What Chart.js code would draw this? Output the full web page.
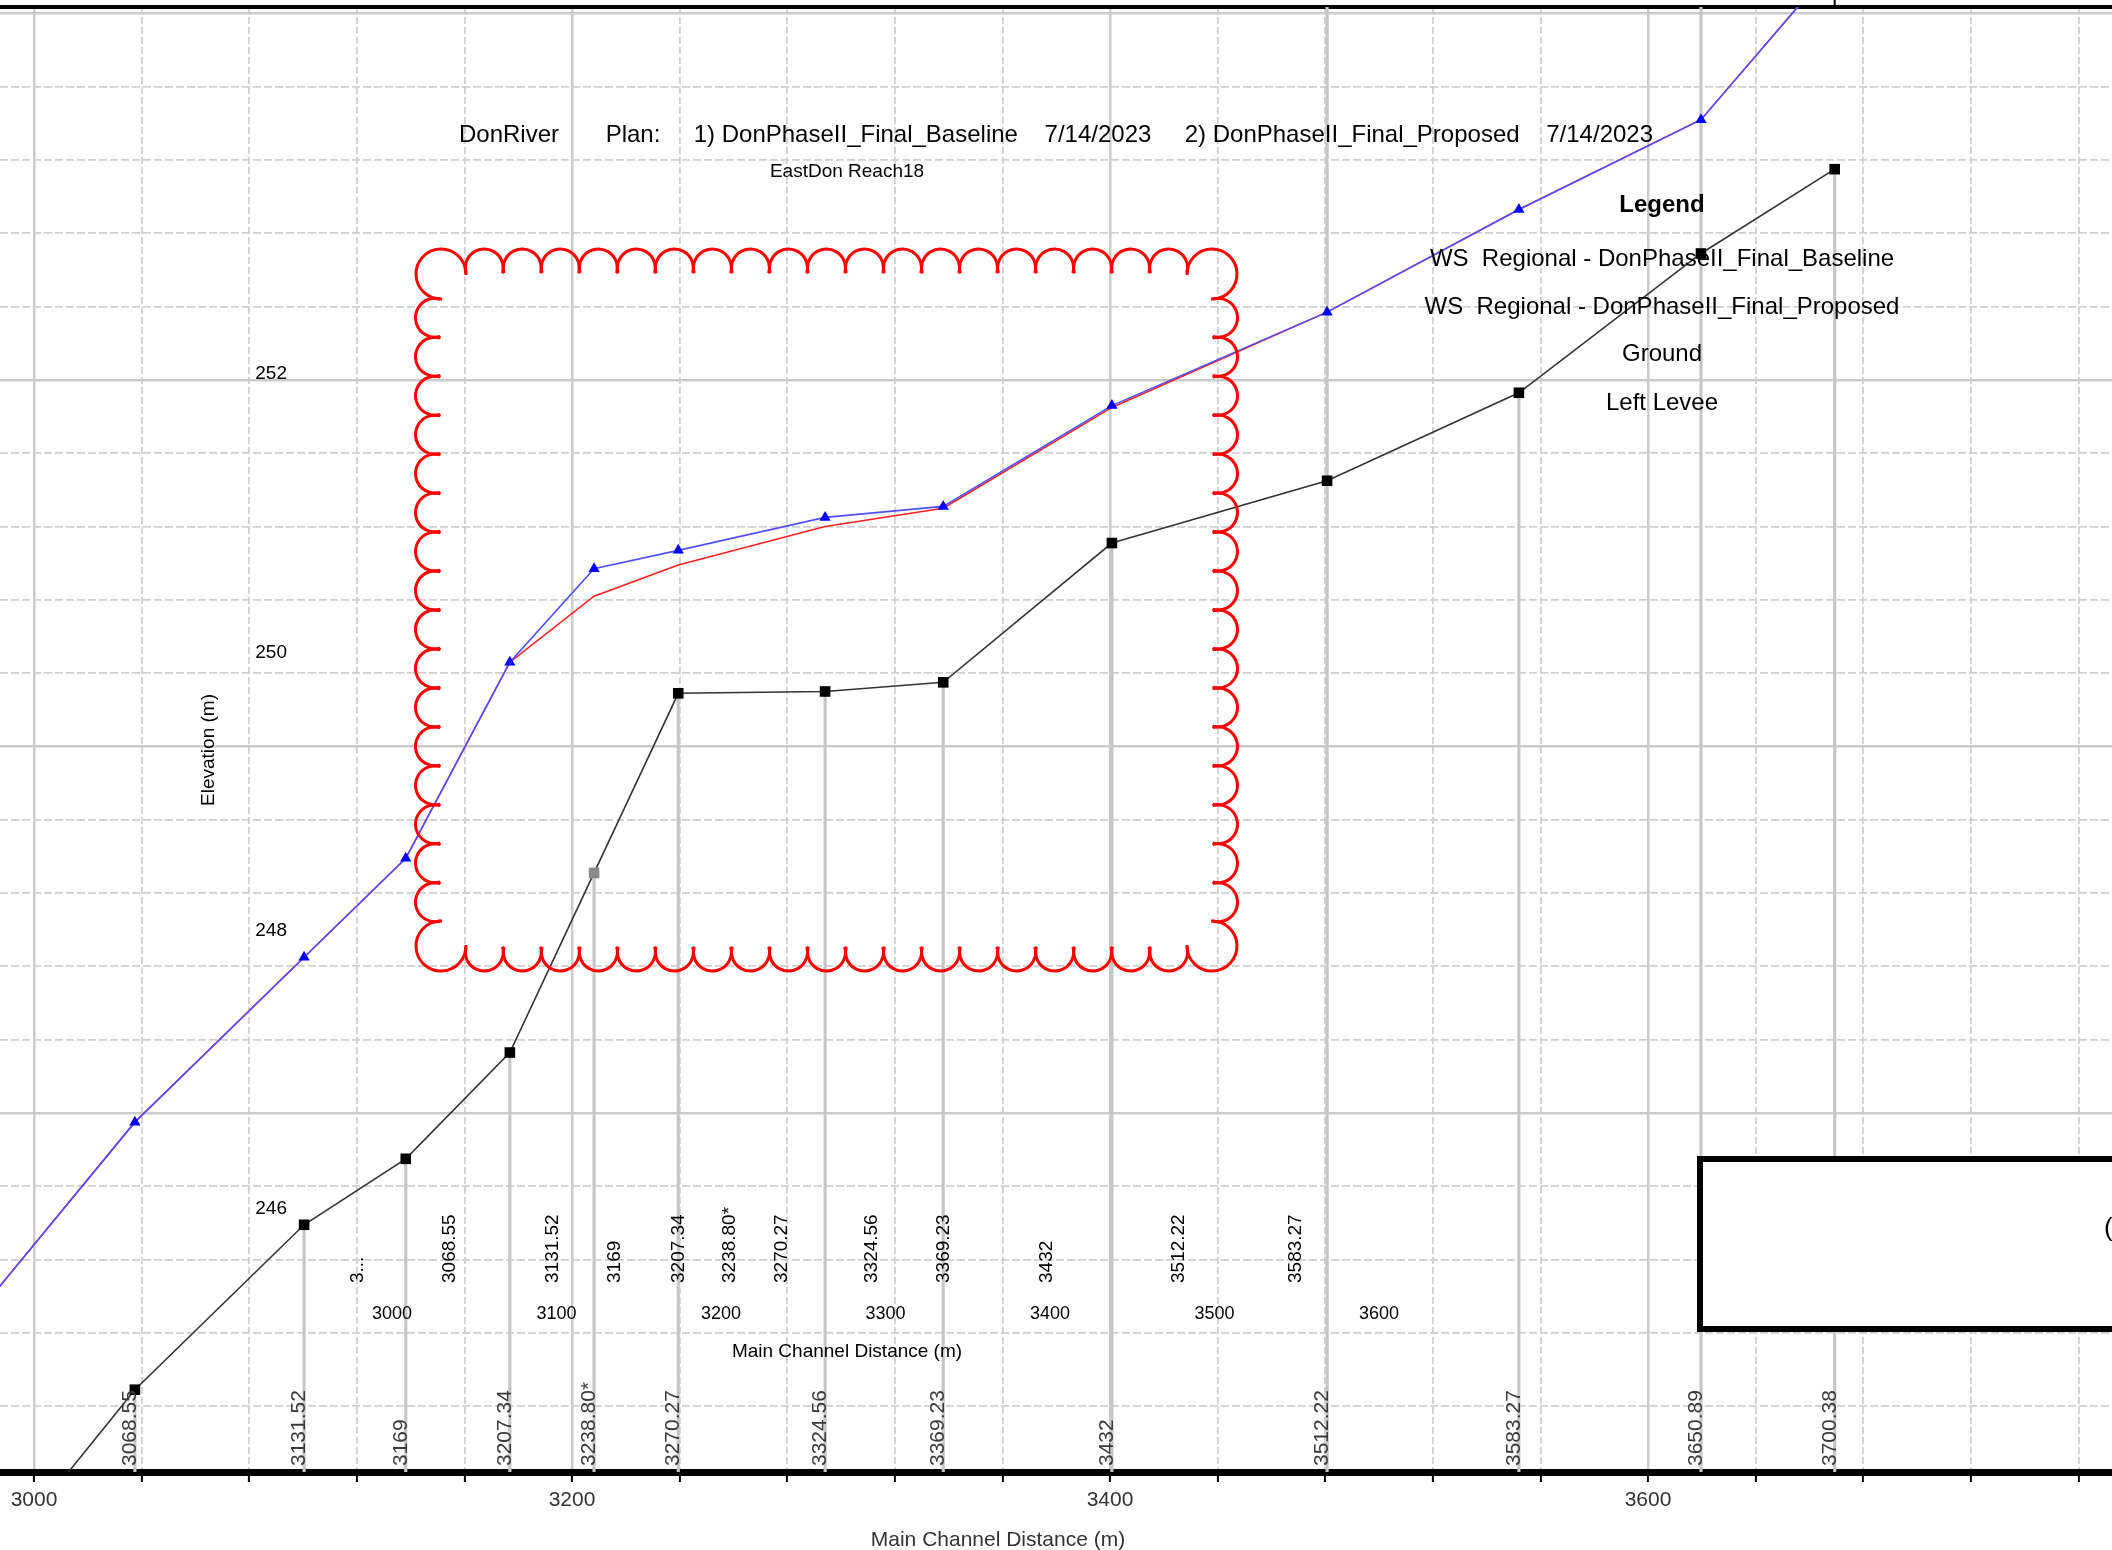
<!DOCTYPE html>
<html>
<head>
<meta charset="utf-8">
<title>DonRiver profile</title>
<script src="https://cdn.jsdelivr.net/npm/chart.js@4.4.0/dist/chart.umd.min.js"></script>
<style>
  html, body { margin: 0; padding: 0; background: #fff; }
  #wrap { position: relative; width: 2112px; height: 1550px; overflow: hidden; background: #fff; }
  #wrap canvas { position: absolute; left: 0; top: 0; }
</style>
</head>
<body>
<div id="wrap">
  <canvas id="profile" width="2112" height="1550"></canvas>
  <canvas id="inset" width="2112" height="1550"></canvas>
</div>
<script>
// river stations and their main channel distance (m)
const stationLabels = ['3...', '3068.55', '3131.52', '3169', '3207.34', '3238.80*', '3270.27',
  '3324.56', '3369.23', '3432', '3512.22', '3583.27', '3650.89', '3700.38'];
const mainChannelDist = [2982, 3037.5, 3100.4, 3138.2, 3176.9, 3208.2, 3239.5,
  3294.1, 3338.0, 3400.7, 3480.7, 3552.0, 3619.7, 3669.4];

// elevations (m)
const groundElev = [245.48, 246.49, 247.39, 247.75, 248.33, 249.31, 250.29,
  250.30, 250.35, 251.11, 251.45, 251.93, 252.69, 253.15];
const wsBaseline = [246.96, 247.95, 248.85, 249.39, 250.46, 250.97, 251.07,
  251.25, 251.31, 251.86, 252.37, 252.93, 253.42, 254.27];
const wsProposed = [246.96, 247.95, 248.85, 249.39, 250.46, 250.82, 250.99,
  251.20, 251.30, 251.85, 252.37, 252.93, 253.42, 254.27];

// stations whose section line runs the full height of the plot
const fullHeightStations = ['3512.22', '3650.89'];

// tick labels
const xMajorTicks = [3000, 3200, 3400, 3600];
const insetXTicks = [3000, 3100, 3200, 3300, 3400, 3500, 3600];
const insetYTicks = [246, 248, 250, 252];

const chartTitle = 'DonRiver       Plan:     1) DonPhaseII_Final_Baseline    7/14/2023     2) DonPhaseII_Final_Proposed    7/14/2023';
const chartSubtitle = 'EastDon Reach18';
const legendTitle = 'Legend';
const legendItems = ['WS  Regional - DonPhaseII_Final_Baseline', 'WS  Regional - DonPhaseII_Final_Proposed', 'Ground', 'Left Levee'];

const FONT = "'Liberation Sans', Arial, sans-serif";
Chart.defaults.font.family = FONT;
Chart.defaults.color = '#000';

const clear = 'rgba(0,0,0,0)';
const isMajorX = v => xMajorTicks.includes(v);
const isMajorY = v => Math.abs(v / 2 - Math.round(v / 2)) < 1e-6;
const pts = ys => mainChannelDist.map((d, i) => ({ x: d, y: ys[i] }));

// labels, tick and title drawn on the profile
const profileOverlay = {
  id: 'profileOverlay',
  afterDatasetsDraw(chart) {
    const { ctx, scales: { x } } = chart;
    ctx.save();
    ctx.fillStyle = '#3a3a3a';
    ctx.font = '21px ' + FONT;
    ctx.textAlign = 'left';
    ctx.textBaseline = 'alphabetic';
    stationLabels.forEach((lab, i) => {
      const px = x.getPixelForValue(mainChannelDist[i]);
      if (px < 0 || px > chart.width) return;
      ctx.save();
      ctx.translate(px + 1, 1466);
      ctx.rotate(-Math.PI / 2);
      ctx.fillText(lab, 0, 0);
      ctx.restore();
    });
    const xl = x.getPixelForValue(mainChannelDist[mainChannelDist.length - 1]);
    ctx.strokeStyle = '#000';
    ctx.lineWidth = 2;
    ctx.beginPath();
    ctx.moveTo(xl, 0);
    ctx.lineTo(xl, chart.chartArea.top);
    ctx.stroke();
    ctx.fillStyle = '#333';
    ctx.textAlign = 'center';
    ctx.textBaseline = 'middle';
    ctx.fillText('Main Channel Distance (m)', 998, 1540);
    ctx.restore();
  }
};

new Chart(document.getElementById('profile'), {
  type: 'line',
  data: {
    datasets: [
      {
        type: 'bar',
        label: 'Sections',
        data: mainChannelDist.map((d, i) => ({
          x: d,
          y: [244, fullHeightStations.includes(stationLabels[i]) ? 256 : groundElev[i]]
        })),
        backgroundColor: '#c6c6c6',
        borderWidth: 0,
        barThickness: 2.5,
        order: 4
      },
      {
        label: 'Ground',
        data: pts(groundElev),
        borderColor: '#333333',
        borderWidth: 1.6,
        pointStyle: 'rect',
        pointRadius: 7.5,
        pointBorderWidth: 0,
        pointBackgroundColor: stationLabels.map(l => l.endsWith('*') ? '#8a8a8a' : '#000'),
        order: 3
      },
      {
        label: 'WS  Regional - DonPhaseII_Final_Proposed',
        data: pts(wsProposed),
        borderColor: '#ff2020',
        borderWidth: 1.6,
        pointRadius: 0,
        order: 2
      },
      {
        label: 'WS  Regional - DonPhaseII_Final_Baseline',
        data: pts(wsBaseline),
        borderColor: '#5050ff',
        borderWidth: 1.6,
        pointStyle: 'triangle',
        pointRadius: 6.5,
        pointBorderWidth: 0,
        pointBackgroundColor: '#0000ff',
        order: 1
      }
    ]
  },
  options: {
    responsive: false,
    animation: false,
    devicePixelRatio: 1,
    layout: { autoPadding: false, padding: { top: 7 } },
    elements: { line: { tension: 0 } },
    plugins: { legend: { display: false }, tooltip: { enabled: false } },
    scales: {
      x: {
        type: 'linear', position: 'bottom', min: 2987.36, max: 3772.49, offset: false,
        ticks: {
          stepSize: 40, includeBounds: false, maxTicksLimit: 100, autoSkip: false, maxRotation: 0,
          padding: 6, color: '#333', font: { size: 21 },
          callback: v => isMajorX(v) ? String(v) : ''
        },
        grid: {
          offset: false,
          color: c => (c.tick && isMajorX(c.tick.value)) ? clear : '#d0d0d0',
          lineWidth: 1.8, drawTicks: true, tickLength: 10, tickColor: '#000', tickWidth: 2
        },
        border: { display: true, color: '#000', width: 7, dash: [7, 3] },
        afterFit: s => { s.height = 78; }
      },
      xMajor: {
        type: 'linear', position: 'top', min: 2987.36, max: 3772.49, offset: false,
        afterBuildTicks: s => { s.ticks = xMajorTicks.map(v => ({ value: v })); },
        ticks: { display: false },
        grid: { offset: false, color: '#cbcbcb', lineWidth: 2.5, drawTicks: false },
        border: { display: true, color: '#000', width: 4 },
        afterFit: s => { s.height = 0; }
      },
      y: {
        type: 'linear', position: 'left', min: 246.041, max: 254.035, beginAtZero: false,
        ticks: { display: false, stepSize: 0.4, includeBounds: false, maxTicksLimit: 100 },
        grid: {
          color: c => (c.tick && isMajorY(c.tick.value)) ? clear : '#d0d0d0',
          lineWidth: 1.8, drawTicks: false
        },
        border: { display: false, dash: [8, 3] },
        afterFit: s => { s.width = 0; }
      },
      yMajor: {
        type: 'linear', position: 'left', min: 246.041, max: 254.035,
        ticks: { display: false, stepSize: 2, includeBounds: false },
        grid: { color: '#cbcbcb', lineWidth: 2.5, drawTicks: false },
        border: { display: false },
        afterFit: s => { s.width = 0; }
      }
    }
  },
  plugins: [profileOverlay]
});

// red revision cloud
function drawCloud(ctx, L, T, R, B) {
  const rc = 25, inset = 6, hook = 0.28;
  const s = Math.sqrt(rc * rc - inset * inset);
  const cross = inset + s;
  const phi = Math.atan2(inset, s);
  const P = Math.PI;
  ctx.save();
  ctx.strokeStyle = '#ff0000';
  ctx.lineWidth = 3;
  const arc = (cx, cy, r, a0, a1) => {
    ctx.beginPath();
    ctx.arc(cx, cy, r, a0 - hook, a1 + hook);
    ctx.stroke();
  };
  const edge = (x0, y0, x1, y1, normal) => {
    const len = Math.hypot(x1 - x0, y1 - y0);
    const n = Math.max(1, Math.round(len / 38.5));
    const r = len / n / 2;
    for (let i = 0; i < n; i++) {
      const t = (i + 0.5) / n;
      arc(x0 + (x1 - x0) * t, y0 + (y1 - y0) * t, r, normal - P / 2, normal + P / 2);
    }
  };
  edge(L + cross, T, R - cross, T, -P / 2);
  edge(R, T + cross, R, B - cross, 0);
  edge(L + cross, B, R - cross, B, P / 2);
  edge(L, T + cross, L, B - cross, P);
  arc(L + inset, T + inset, rc, P / 2 + phi, 2 * P - phi);
  arc(R - inset, T + inset, rc, P + phi, 5 * P / 2 - phi);
  arc(R - inset, B - inset, rc, -P / 2 + phi, P - phi);
  arc(L + inset, B - inset, rc, phi, 3 * P / 2 - phi);
  ctx.restore();
}

// texts and markup drawn on the inset plot
const insetOverlay = {
  id: 'insetOverlay',
  afterDraw(chart) {
    const { ctx, chartArea, scales: { x } } = chart;
    ctx.save();
    ctx.fillStyle = '#000';
    ctx.font = '19px ' + FONT;
    ctx.textAlign = 'left';
    ctx.textBaseline = 'alphabetic';
    stationLabels.forEach((lab, i) => {
      const px = x.getPixelForValue(mainChannelDist[i]);
      if (px < chartArea.left || px > chartArea.right) return;
      ctx.save();
      ctx.translate(px + 1, 1283);
      ctx.rotate(-Math.PI / 2);
      ctx.fillText(lab, 0, 0);
      ctx.restore();
    });

    ctx.textAlign = 'center';
    ctx.textBaseline = 'middle';
    ctx.font = 'bold 24px ' + FONT;
    ctx.fillText(legendTitle, 1662, 205);
    ctx.font = '24px ' + FONT;
    const legendY = [259, 307, 354, 403];
    legendItems.forEach((t, i) => ctx.fillText(t, 1662, legendY[i]));

    drawCloud(ctx, 435, 268, 1218, 952);

    ctx.fillStyle = '#fff';
    ctx.fillRect(1697, 1156, 430, 176);
    ctx.strokeStyle = '#000';
    ctx.lineWidth = 6;
    ctx.strokeRect(1700, 1159, 430, 170);
    ctx.fillStyle = '#000';
    ctx.font = '26px ' + FONT;
    ctx.textAlign = 'left';
    ctx.fillText('(', 2104, 1229);
    ctx.restore();
  }
};

new Chart(document.getElementById('inset'), {
  type: 'line',
  data: { datasets: [] },
  options: {
    responsive: false,
    animation: false,
    devicePixelRatio: 1,
    layout: { autoPadding: false },
    plugins: {
      legend: { display: false },
      tooltip: { enabled: false },
      title: {
        display: true, text: chartTitle, color: '#000',
        font: { size: 24, weight: 'normal' }, padding: { top: 120.6, bottom: 0 }
      },
      subtitle: {
        display: true, text: chartSubtitle, color: '#000', fullSize: false,
        font: { size: 19 }, padding: { top: 11.2, bottom: 16.6 }
      }
    },
    scales: {
      x: {
        type: 'linear', min: 2938, max: 3615.2,
        afterBuildTicks: s => { s.ticks = insetXTicks.map(v => ({ value: v })); },
        ticks: { color: '#000', font: { size: 18 }, padding: 3, maxRotation: 0, autoSkip: false, callback: v => String(v) },
        grid: { display: false, drawTicks: false },
        border: { display: false },
        title: { display: true, text: 'Main Channel Distance (m)', color: '#000', font: { size: 19 }, padding: { top: 0, bottom: 186.6 } },
        afterFit: s => { s.height = 250; }
      },
      y: {
        type: 'linear', min: 245.346, max: 253.25,
        afterBuildTicks: s => { s.ticks = insetYTicks.map(v => ({ value: v })); },
        ticks: { color: '#000', font: { size: 19 }, padding: 3, callback: v => String(v) },
        grid: { display: false, drawTicks: false },
        border: { display: false },
        title: { display: true, text: 'Elevation (m)', color: '#000', font: { size: 19 }, padding: { top: 197.6, bottom: 0 } },
        afterFit: s => { s.width = 290; }
      },
      spacer: {
        type: 'linear', position: 'right',
        ticks: { display: false },
        grid: { display: false, drawTicks: false },
        border: { display: false },
        afterFit: s => { s.width = 708; }
      }
    }
  },
  plugins: [insetOverlay]
});
</script>
</body>
</html>
